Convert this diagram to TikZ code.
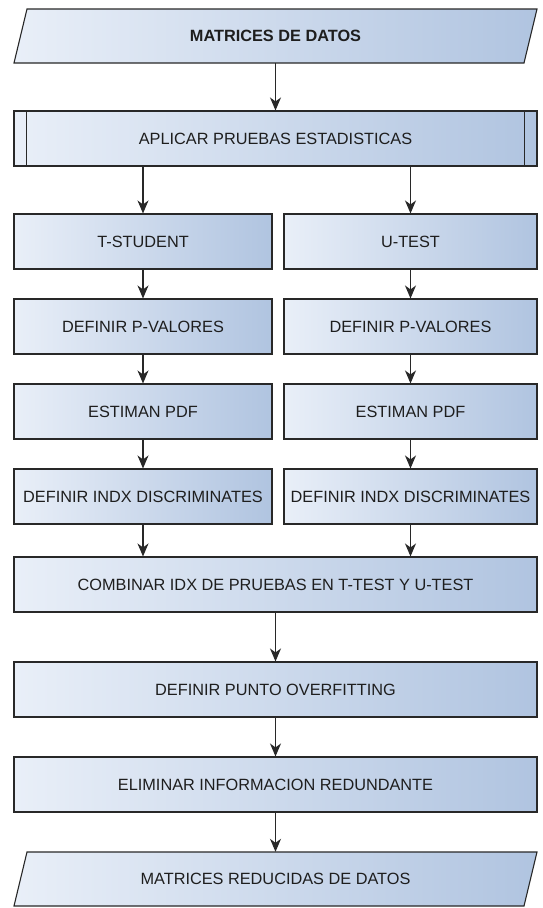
\documentclass[tikz,border=0pt]{standalone}
\usepackage{fontspec}
\setmainfont{Liberation Sans}
\usetikzlibrary{arrows.meta}

\definecolor{boxlight}{RGB}{233,239,248}
\definecolor{boxdark}{RGB}{176,196,224}
\definecolor{edge}{RGB}{40,40,40}
\definecolor{ink}{RGB}{30,30,30}

\begin{document}
\begin{tikzpicture}[x=1pt,y=-1pt,
  stepbox/.style={draw=edge, line width=1.1pt, left color=boxlight, right color=boxdark,
    minimum height=55pt, inner sep=0pt, text=ink, font=\fontsize{16.3}{19}\selectfont},
  iotext/.style={inner sep=0pt, minimum height=54pt, minimum width=500pt, text=ink,
    font=\fontsize{16.3}{19}\selectfont},
  ioshape/.style={draw=edge, line width=1.1pt, left color=boxlight, right color=boxdark},
  flow/.style={draw=edge, line width=1.1pt, -{Stealth[length=13pt,width=11pt,inset=4pt]}}]

\useasboundingbox (0,0) rectangle (542,908);

% input data (parallelogram)
\shade[ioshape] (27,9) -- (537,9) -- (524,63) -- (14,63) -- cycle;
\node[iotext, font=\fontsize{16.3}{19}\selectfont\bfseries] (in) at (275.5,36) {MATRICES DE DATOS};

% predefined process
\node[stepbox, minimum width=523pt] (apl) at (275.5,138.5) {APLICAR PRUEBAS ESTADISTICAS};
\draw[edge, line width=1.1pt] ([xshift=13pt]apl.north west) -- ([xshift=13pt]apl.south west);
\draw[edge, line width=1.1pt] ([xshift=-13pt]apl.north east) -- ([xshift=-13pt]apl.south east);

% left branch
\node[stepbox, minimum width=258pt] (ts)  at (143,241.5) {T-STUDENT};
\node[stepbox, minimum width=258pt] (dp1) at (143,326.5) {DEFINIR P-VALORES};
\node[stepbox, minimum width=258pt] (ep1) at (143,411.5) {ESTIMAN PDF};
\node[stepbox, minimum width=258pt] (di1) at (143,496.5) {DEFINIR INDX DISCRIMINATES};

% right branch
\node[stepbox, minimum width=253pt] (ut)  at (410.5,241.5) {U-TEST};
\node[stepbox, minimum width=253pt] (dp2) at (410.5,326.5) {DEFINIR P-VALORES};
\node[stepbox, minimum width=253pt] (ep2) at (410.5,411.5) {ESTIMAN PDF};
\node[stepbox, minimum width=253pt] (di2) at (410.5,496.5) {DEFINIR INDX DISCRIMINATES};

% merged steps
\node[stepbox, minimum width=523pt] (comb)  at (275.5,584.5) {COMBINAR IDX DE PRUEBAS EN T-TEST Y U-TEST};
\node[stepbox, minimum width=523pt] (punto) at (275.5,689.5) {DEFINIR PUNTO OVERFITTING};
\node[stepbox, minimum width=523pt] (elim)  at (275.5,784.5) {ELIMINAR INFORMACION REDUNDANTE};

% output data (parallelogram)
\shade[ioshape] (27,852) -- (537,852) -- (524,906) -- (14,906) -- cycle;
\node[iotext] (out) at (275.5,879) {MATRICES REDUCIDAS DE DATOS};

% connectors
\draw[flow] (in) -- (apl);
\draw[flow] (apl.south -| ts) -- (ts);
\draw[flow] (apl.south -| ut) -- (ut);
\draw[flow] (ts) -- (dp1);
\draw[flow] (dp1) -- (ep1);
\draw[flow] (ep1) -- (di1);
\draw[flow] (ut) -- (dp2);
\draw[flow] (dp2) -- (ep2);
\draw[flow] (ep2) -- (di2);
\draw[flow] (di1) -- (comb.north -| di1);
\draw[flow] (di2) -- (comb.north -| di2);
\draw[flow] (comb) -- (punto);
\draw[flow] (punto) -- (elim);
\draw[flow] (elim) -- (out);
\end{tikzpicture}
\end{document}
